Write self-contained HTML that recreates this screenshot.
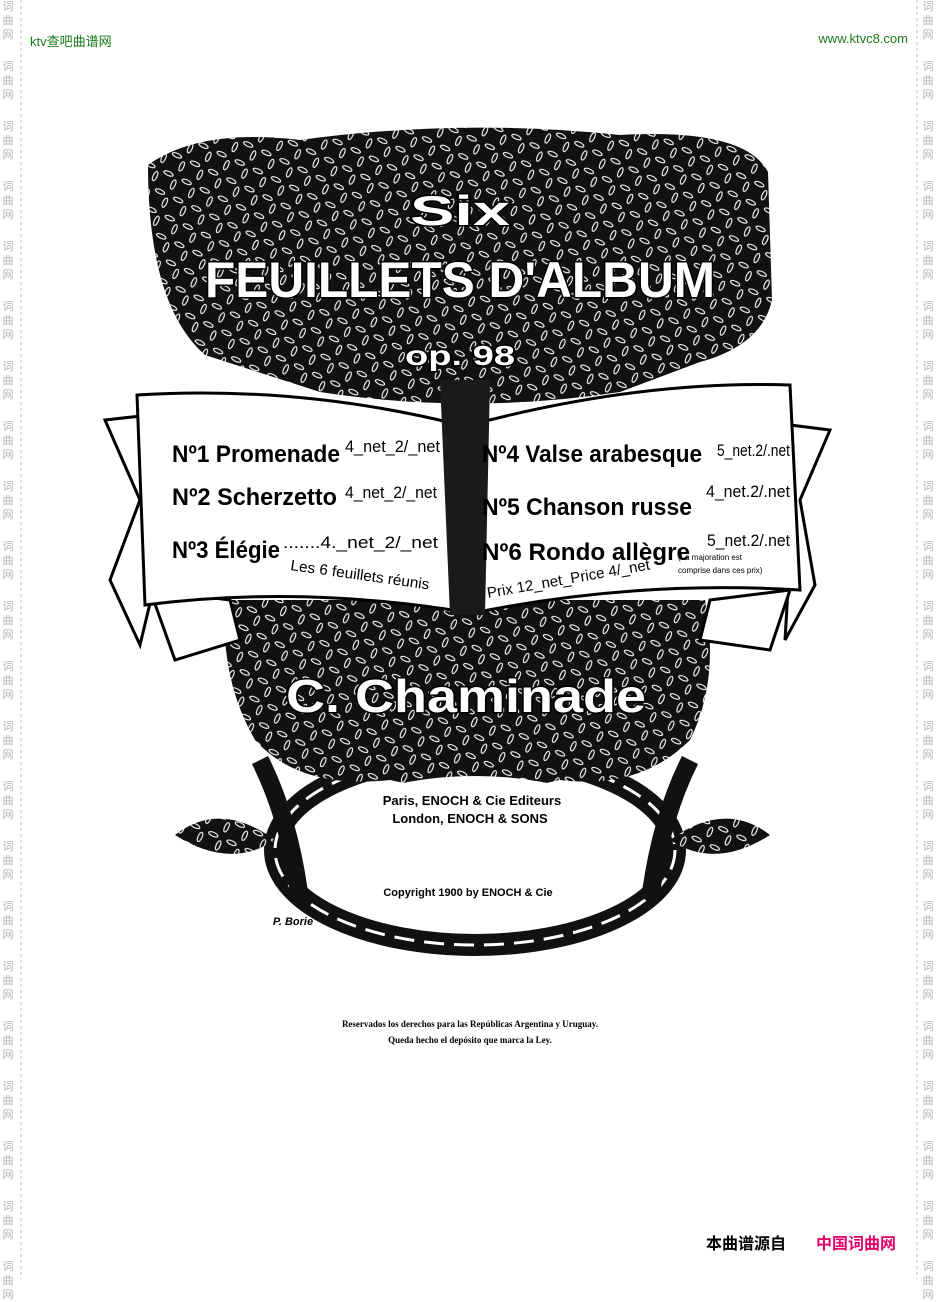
<!DOCTYPE html>
<html><head><meta charset="utf-8"><style>
html,body{margin:0;padding:0;background:#fff;}
body{width:938px;height:1279px;overflow:hidden;position:relative;font-family:"Liberation Sans","Noto Sans CJK SC",sans-serif;}
.m{position:absolute;font-size:11px;color:#b0b0b0;line-height:14px;width:14px;text-align:center;}
</style></head><body>
<svg width="938" height="1279" viewBox="0 0 938 1279" style="position:absolute;left:0;top:0">
<defs>
<pattern id="leaf" width="20" height="20" patternUnits="userSpaceOnUse" patternTransform="rotate(25)">
<rect width="20" height="20" fill="#111"/>
<ellipse cx="6" cy="6" rx="5" ry="2" fill="none" stroke="#fff" stroke-width="1.1"/>
<ellipse cx="15" cy="14" rx="2" ry="5" fill="none" stroke="#fff" stroke-width="1.1"/>
</pattern>
</defs>
<line x1="21" y1="0" x2="21" y2="1279" stroke="#bbb" stroke-dasharray="3,3"/>
<line x1="917" y1="0" x2="917" y2="1279" stroke="#bbb" stroke-dasharray="3,3"/>
<path d="M148,165 Q200,128 300,140 Q460,118 620,135 Q745,128 768,172 L772,300 Q762,345 700,362 L620,392 Q470,415 320,392 L205,355 Q148,305 148,165 Z" fill="url(#leaf)"/>
<ellipse cx="475" cy="850" rx="200" ry="95" fill="none" stroke="#111" stroke-width="22"/>
<ellipse cx="475" cy="850" rx="200" ry="95" fill="none" stroke="#fff" stroke-width="3" stroke-dasharray="20,10"/>
<path d="M260,760 Q290,820 300,900 M690,760 Q660,820 650,900" stroke="#111" stroke-width="18" fill="none"/>
<path d="M175,835 Q220,800 275,840 Q230,870 175,835 Z" fill="url(#leaf)"/>
<path d="M770,835 Q725,800 670,840 Q715,870 770,835 Z" fill="url(#leaf)"/>
<path d="M225,600 L705,600 Q720,680 690,740 Q640,790 560,780 Q475,800 390,780 Q300,790 255,740 Q220,680 225,600 Z" fill="url(#leaf)"/>
<ellipse cx="475" cy="848" rx="168" ry="72" fill="#fff"/>
<path d="M105,420 L150,415 L152,595 L140,645 L110,580 L140,500 Z" fill="#fff" stroke="#000" stroke-width="3"/>
<path d="M830,430 L790,425 L788,590 L785,640 L815,585 L800,500 Z" fill="#fff" stroke="#000" stroke-width="3"/>
<path d="M150,590 L175,660 L240,640 L230,600 Z" fill="#fff" stroke="#000" stroke-width="3"/>
<path d="M790,590 L770,650 L700,640 L710,600 Z" fill="#fff" stroke="#000" stroke-width="3"/>
<path d="M137,395 Q300,385 460,425 L465,612 Q300,585 145,605 Z" fill="#fff" stroke="#000" stroke-width="3"/>
<path d="M470,425 Q640,380 790,385 L800,590 Q640,580 478,612 Z" fill="#fff" stroke="#000" stroke-width="3"/>
<path d="M440,380 L490,380 L485,615 L450,615 Z" fill="#1a1a1a"/>
<g fill="#fff" stroke="#000" stroke-width="3" font-family="Liberation Sans,sans-serif" font-weight="bold" text-anchor="middle" paint-order="stroke">
<text x="460" y="225" font-size="42" textLength="100" lengthAdjust="spacingAndGlyphs">Six</text>
<text x="460" y="297" font-size="50" textLength="510" lengthAdjust="spacingAndGlyphs">FEUILLETS D'ALBUM</text>
<text x="460" y="365" font-size="28" textLength="110" lengthAdjust="spacingAndGlyphs">op. 98</text>
<text x="466" y="712" font-size="46" textLength="360" lengthAdjust="spacingAndGlyphs">C. Chaminade</text>
</g>
<g font-family="Liberation Sans Narrow,Liberation Sans,sans-serif" fill="#000">
<text x="172" y="462" font-size="24" font-weight="bold" textLength="168" lengthAdjust="spacingAndGlyphs">Nº1 Promenade</text>
<text x="345" y="452" font-size="17" textLength="95" lengthAdjust="spacingAndGlyphs">4_net_2/_net</text>
<text x="172" y="505" font-size="24" font-weight="bold" textLength="165" lengthAdjust="spacingAndGlyphs">Nº2 Scherzetto</text>
<text x="345" y="498" font-size="17" textLength="92" lengthAdjust="spacingAndGlyphs">4_net_2/_net</text>
<text x="172" y="558" font-size="24" font-weight="bold" textLength="108" lengthAdjust="spacingAndGlyphs">Nº3 Élégie</text>
<text x="283" y="548" font-size="17" textLength="155" lengthAdjust="spacingAndGlyphs">.......4._net_2/_net</text>
<text x="290" y="570" font-size="15" textLength="140" lengthAdjust="spacingAndGlyphs" transform="rotate(8 290 570)">Les 6 feuillets réunis</text>
<text x="482" y="462" font-size="24" font-weight="bold" textLength="220" lengthAdjust="spacingAndGlyphs">Nº4 Valse arabesque</text>
<text x="717" y="456" font-size="17" textLength="73" lengthAdjust="spacingAndGlyphs">5_net.2/.net</text>
<text x="482" y="515" font-size="24" font-weight="bold" textLength="210" lengthAdjust="spacingAndGlyphs">Nº5 Chanson russe</text>
<text x="706" y="497" font-size="17" textLength="84" lengthAdjust="spacingAndGlyphs">4_net.2/.net</text>
<text x="482" y="560" font-size="24" font-weight="bold" textLength="208" lengthAdjust="spacingAndGlyphs">Nº6 Rondo allègre</text>
<text x="707" y="546" font-size="17" textLength="83" lengthAdjust="spacingAndGlyphs">5_net.2/.net</text>
<text x="488" y="598" font-size="15" textLength="165" lengthAdjust="spacingAndGlyphs" transform="rotate(-10 488 598)">Prix 12_net_Price 4/_net</text>
<text x="678" y="560" font-size="8">(La majoration est</text>
<text x="678" y="573" font-size="8">comprise dans ces prix)</text>
</g>
<g font-family="Liberation Sans Narrow,Liberation Sans,sans-serif" font-weight="bold" fill="#000" text-anchor="middle">
<text x="472" y="805" font-size="13">Paris, ENOCH &amp; Cie Editeurs</text>
<text x="470" y="823" font-size="13">London, ENOCH &amp; SONS</text>
<text x="468" y="896" font-size="11">Copyright 1900 by ENOCH &amp; Cie</text>
<text x="293" y="925" font-size="11" font-style="italic">P. Borie</text>
</g>
<g font-family="Liberation Serif,serif" font-weight="bold" fill="#000" text-anchor="middle" font-size="9">
<text x="470" y="1027">Reservados los derechos para las Repúblicas Argentina y Uruguay.</text>
<text x="470" y="1043">Queda hecho el depósito que marca la Ley.</text>
</g>
</svg>
<div style="position:absolute;left:30px;top:31px;font-size:13px;color:#1a7a1a;font-family:'Liberation Sans','Noto Sans CJK SC',sans-serif;">ktv查吧曲谱网</div>
<div style="position:absolute;right:30px;top:31px;font-size:13px;color:#1a7a1a;">www.ktvc8.com</div>
<div style="position:absolute;left:706px;top:1230px;font-size:16px;font-weight:bold;color:#000;font-family:'Liberation Sans','Noto Sans CJK SC',sans-serif;">本曲谱源自</div>
<div style="position:absolute;left:816px;top:1230px;font-size:16px;font-weight:bold;color:#e0006a;font-family:'Liberation Sans','Noto Sans CJK SC',sans-serif;">中国词曲网</div>
<div id="marks"></div>
<script>
var h='';for(var y=0;y<1279;y+=60){['词','曲','网'].forEach(function(c,i){h+='<div class="m" style="left:1px;top:'+(y+i*14)+'px">'+c+'</div><div class="m" style="left:921px;top:'+(y+i*14)+'px">'+c+'</div>';});}
document.getElementById('marks').innerHTML=h;
</script>
</body></html>
